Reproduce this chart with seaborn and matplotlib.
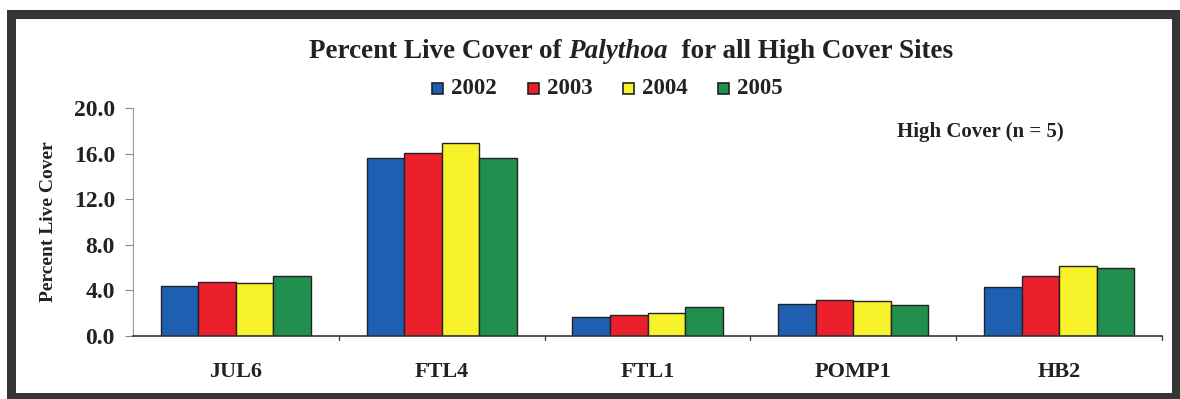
import matplotlib
matplotlib.use("Agg")
import matplotlib.pyplot as plt
import seaborn as sns
import pandas as pd
from matplotlib.patches import Rectangle
from matplotlib.font_manager import FontProperties

sites = ["JUL6", "FTL4", "FTL1", "POMP1", "HB2"]
years = ["2002", "2003", "2004", "2005"]
cover_2002 = [4.4, 15.6, 1.65, 2.85, 4.3]
cover_2003 = [4.7, 16.05, 1.85, 3.2, 5.3]
cover_2004 = [4.65, 16.9, 2.0, 3.05, 6.1]
cover_2005 = [5.25, 15.6, 2.55, 2.7, 6.0]
y_ticks = [0.0, 4.0, 8.0, 12.0, 16.0, 20.0]

palette = ["#1f5fb2", "#ec1f2d", "#f7f22a", "#21904f"]
ink = "#222222"

rows = []
for year, vals in zip(years, [cover_2002, cover_2003, cover_2004, cover_2005]):
    for site, v in zip(sites, vals):
        rows.append({"Site": site, "Year": year, "Cover": v})
df = pd.DataFrame(rows)

sns.set_theme(style="white")
plt.rcParams["font.family"] = ["Liberation Serif", "DejaVu Serif"]
plt.rcParams["font.weight"] = "bold"

W, H = 1180, 399
fig = plt.figure(figsize=(W / 100, H / 100), dpi=100)
fig.patch.set_facecolor("white")
ax = fig.add_axes([133 / W, 1 - 336 / H, 1029 / W, 228 / H])

sns.barplot(data=df, x="Site", y="Cover", hue="Year", order=sites,
            hue_order=years, palette=palette, width=0.73, saturation=1,
            edgecolor=ink, linewidth=1.0, ax=ax, legend=False)

ax.set_xlim(-0.5, len(sites) - 0.5)
ax.set_ylim(0, 20)
ax.set_yticks(y_ticks)
ax.set_yticklabels([f"{t:.1f}" for t in y_ticks], fontsize=17, fontweight="bold",
                   color=ink)
ax.set_xticks(range(len(sites)))
ax.set_xticklabels(sites, fontsize=16, fontweight="bold", color=ink)
ax.tick_params(axis="x", length=0, pad=19)
ax.tick_params(axis="y", length=6, width=0.8, color="#888888", pad=7, left=True)
# small ticks at the category boundaries below the x axis
for b in [i + 0.5 for i in range(len(sites))]:
    ax.plot([b, b], [0, -0.35], color="#444444", lw=1.0, clip_on=False)
ax.set_xlabel("")
ax.set_ylabel("Percent Live Cover", fontsize=14, fontweight="bold",
              color=ink, labelpad=12)
for side in ["top", "right"]:
    ax.spines[side].set_visible(False)
ax.spines["left"].set_color("#999999")
ax.spines["left"].set_linewidth(0.8)
ax.spines["bottom"].set_color("#333333")
ax.spines["bottom"].set_linewidth(1.2)
ax.set_facecolor("white")

fig.text(980 / W, 1 - 132 / H, "High Cover (n = 5)", ha="center", va="center",
         fontsize=15, fontweight="bold", color=ink)

# Title with the bold-italic genus name, laid out piece by piece
fig.canvas.draw()
renderer = fig.canvas.get_renderer()
upright = FontProperties(family="Liberation Serif", weight="bold",
                         style="normal", size=19.5)
slanted = FontProperties(family="Liberation Serif", weight="bold",
                         style="italic", size=19.5)
parts = [("Percent Live Cover of ", upright), ("Palythoa", slanted),
         ("  for all High Cover Sites", upright)]
texts, widths = [], []
for s, fp in parts:
    t = fig.text(0, 0, s, fontproperties=fp, color=ink, va="center", ha="left")
    texts.append(t)
    widths.append(t.get_window_extent(renderer).width)
x0 = 631 - sum(widths) / 2
y_title = 1 - 51 / H
for t, w in zip(texts, widths):
    t.set_position((x0 / W, y_title))
    x0 += w

# Legend row
legend_x = [432, 528, 623, 718]
legend_y = 1 - 88 / H
for x, year, col in zip(legend_x, years, palette):
    fig.patches.append(Rectangle((x / W, legend_y - 5.5 / H), 11 / W, 11 / H,
                                 transform=fig.transFigure, facecolor=col,
                                 edgecolor=ink, linewidth=1.2))
    fig.text((x + 19) / W, legend_y, year, fontsize=16.5, fontweight="bold",
             color=ink, va="center", ha="left")

# Dark frame around the whole chart
fig.patches.append(Rectangle((11 / W, 2 / H), 1165 / W, 383 / H,
                             transform=fig.transFigure, fill=False,
                             edgecolor="#333635", linewidth=6.5))

fig.savefig("out.png", dpi=100, facecolor="white")
